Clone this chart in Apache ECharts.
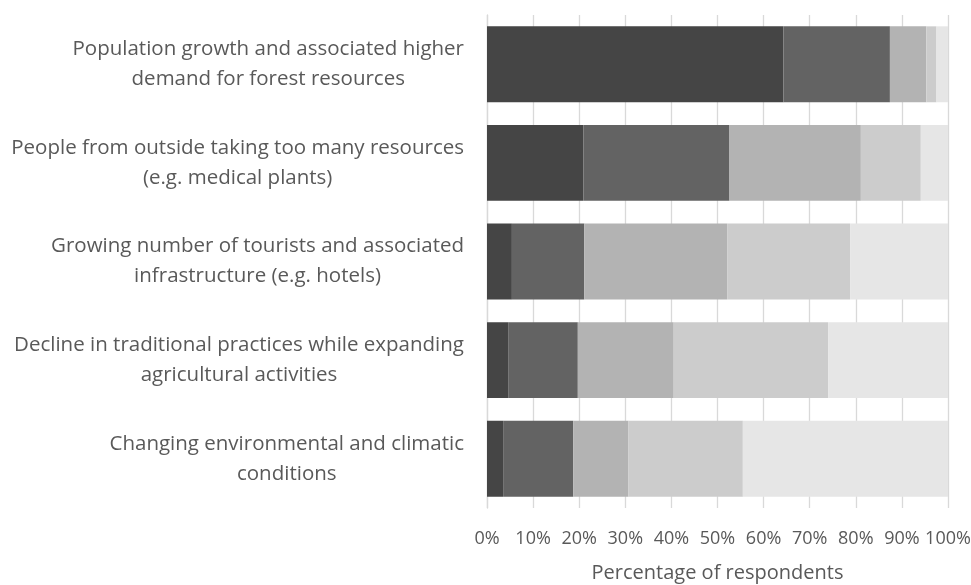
<!DOCTYPE html>
<html>
<head>
<meta charset="utf-8">
<script src="https://cdn.jsdelivr.net/npm/echarts@6/dist/echarts.min.js"></script>
<style>
  html, body { margin: 0; padding: 0; background: #fff; }
  #chart { width: 971px; height: 585px; }
</style>
</head>
<body>
<div id="chart"></div>
<script>
// Threat categories, top to bottom
const categories = [
  'Population growth and associated higher\ndemand for forest resources',
  'People from outside taking too many resources\n(e.g. medical plants)',
  'Growing number of tourists and associated\ninfrastructure (e.g. hotels)',
  'Decline in traditional practices while expanding\nagricultural activities',
  'Changing environmental and climatic\nconditions'
];

// Share of respondents (%) per response level, darkest to lightest
const level1 = [64.3, 20.9, 5.4, 4.7, 3.5];
const level2 = [23.1, 31.7, 15.7, 15.0, 15.2];
const level3 = [7.9, 28.5, 31.0, 20.8, 12.0];
const level4 = [2.2, 13.0, 26.7, 33.5, 24.8];
const level5 = [2.5, 5.9, 21.2, 26.0, 44.5];

const xTicks = [0, 10, 20, 30, 40, 50, 60, 70, 80, 90, 100];

const seriesData = [level1, level2, level3, level4, level5];
const colors = ['#454545', '#636363', '#b3b3b3', '#cccccc', '#e6e6e6'];
const fontFamily = '"Open Sans", sans-serif';

const chart = echarts.init(document.getElementById('chart'), null, { renderer: 'canvas' });

chart.setOption({
  animation: false,
  grid: { left: 487, right: 23, top: 15, bottom: 77, containLabel: false, outerBoundsMode: 'none' },
  xAxis: {
    type: 'value',
    min: xTicks[0],
    max: xTicks[xTicks.length - 1],
    interval: 10,
    name: 'Percentage of respondents',
    nameLocation: 'middle',
    nameGap: 55,
    nameTextStyle: { color: '#595959', fontSize: 20, fontFamily },
    axisLine: { show: false },
    axisTick: { show: false },
    splitLine: { show: true, lineStyle: { color: '#d9d9d9', width: 1.3 } },
    axisLabel: {
      color: '#595959', fontSize: 18, fontFamily, margin: 22,
      formatter: v => v + '%'
    }
  },
  yAxis: {
    type: 'category',
    inverse: true,
    data: categories,
    axisLine: { show: true, lineStyle: { color: '#d9d9d9', width: 1.3 } },
    axisTick: { show: false },
    axisLabel: {
      margin: 23,
      formatter: v => '{c|' + v + '}',
      rich: {
        c: { align: 'center', color: '#595959', fontSize: 20.5, fontFamily, lineHeight: 30 }
      }
    }
  },
  series: seriesData.map((d, i) => ({
    type: 'bar',
    stack: 'total',
    data: d,
    barWidth: '77%',
    itemStyle: { color: colors[i] },
    emphasis: { disabled: true }
  }))
});
</script>
</body>
</html>
